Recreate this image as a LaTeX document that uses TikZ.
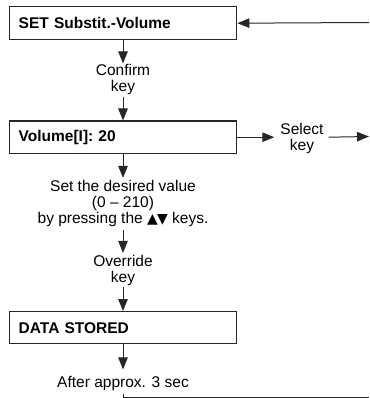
\documentclass[tikz,border=0pt]{standalone}
\usepackage{fontspec}
\setmainfont{Liberation Sans}
\newfontfamily\symfont{DejaVu Sans}
\usetikzlibrary{arrows.meta}
\begin{document}
\begin{tikzpicture}[x=1pt,y=-1pt,
  box/.style={draw=black!85,line width=1.4pt,anchor=north west,minimum height=32pt,
    text width=209pt,inner xsep=9pt,inner ysep=0pt,align=left,font=\fontsize{15.5}{15}\selectfont\bfseries},
  lbl/.style={align=center,inner sep=0pt,font=\fontsize{15.5}{16}\selectfont},
  conn/.style={line width=1pt,draw=black!85},
  arr/.style={conn,-{Triangle[length=12pt,width=9.5pt]}}]
\useasboundingbox (0,0) rectangle (369,398);
\node[box,minimum height=33pt] (box1) at (9,6) {SET Substit.-Volume};
\node[box] (box2) at (9,120.5) {Volume[I]: 20};
\node[box] (box3) at (9,311) {DATA STORED};
\coordinate (r1) at (369,22.5);
\coordinate (r2) at (369,136.5);
\coordinate (r3) at (369,397.5);
\node[lbl] (t1) at (123,79) {Confirm\\key};
\node[lbl] (t2) at (302,138.5) {Select\\key};
\node[lbl] (t3) at (123,203) {Set the desired value\\(0 -- 210)\\by pressing the {\symfont\fontsize{14}{14}\selectfont▲\kern-0.8pt▼} keys.};
\node[lbl] (t4) at (123,270) {Override\\key};
\node[lbl] (t5) at (123,383) {After approx. 3 sec};
\draw[arr] (r1) -- (box1.east);
\draw[arr] (box1.south -| t1) -- ++(0,23);
\draw[arr] ([yshift=-3pt]t1.south) -- (box2.north -| t1);
\draw[arr] (box2.east) -- ([xshift=-6pt]t2.west |- box2.east);
\draw[arr] ([xshift=5pt]t2.east |- box2.east) -- (r2);
\draw[arr] (box2.south -| t3) -- ++(0,24);
\draw[arr] ([yshift=-3.5pt]t3.south) -- ++(0,23);
\draw[arr] ([yshift=-2pt]t4.south) -- (box3.north -| t4);
\draw[arr] (box3.south -| t5) -- ++(0,25);
\draw[conn] ([yshift=-4pt]t5.south) |- (r3);
\end{tikzpicture}
\end{document}
